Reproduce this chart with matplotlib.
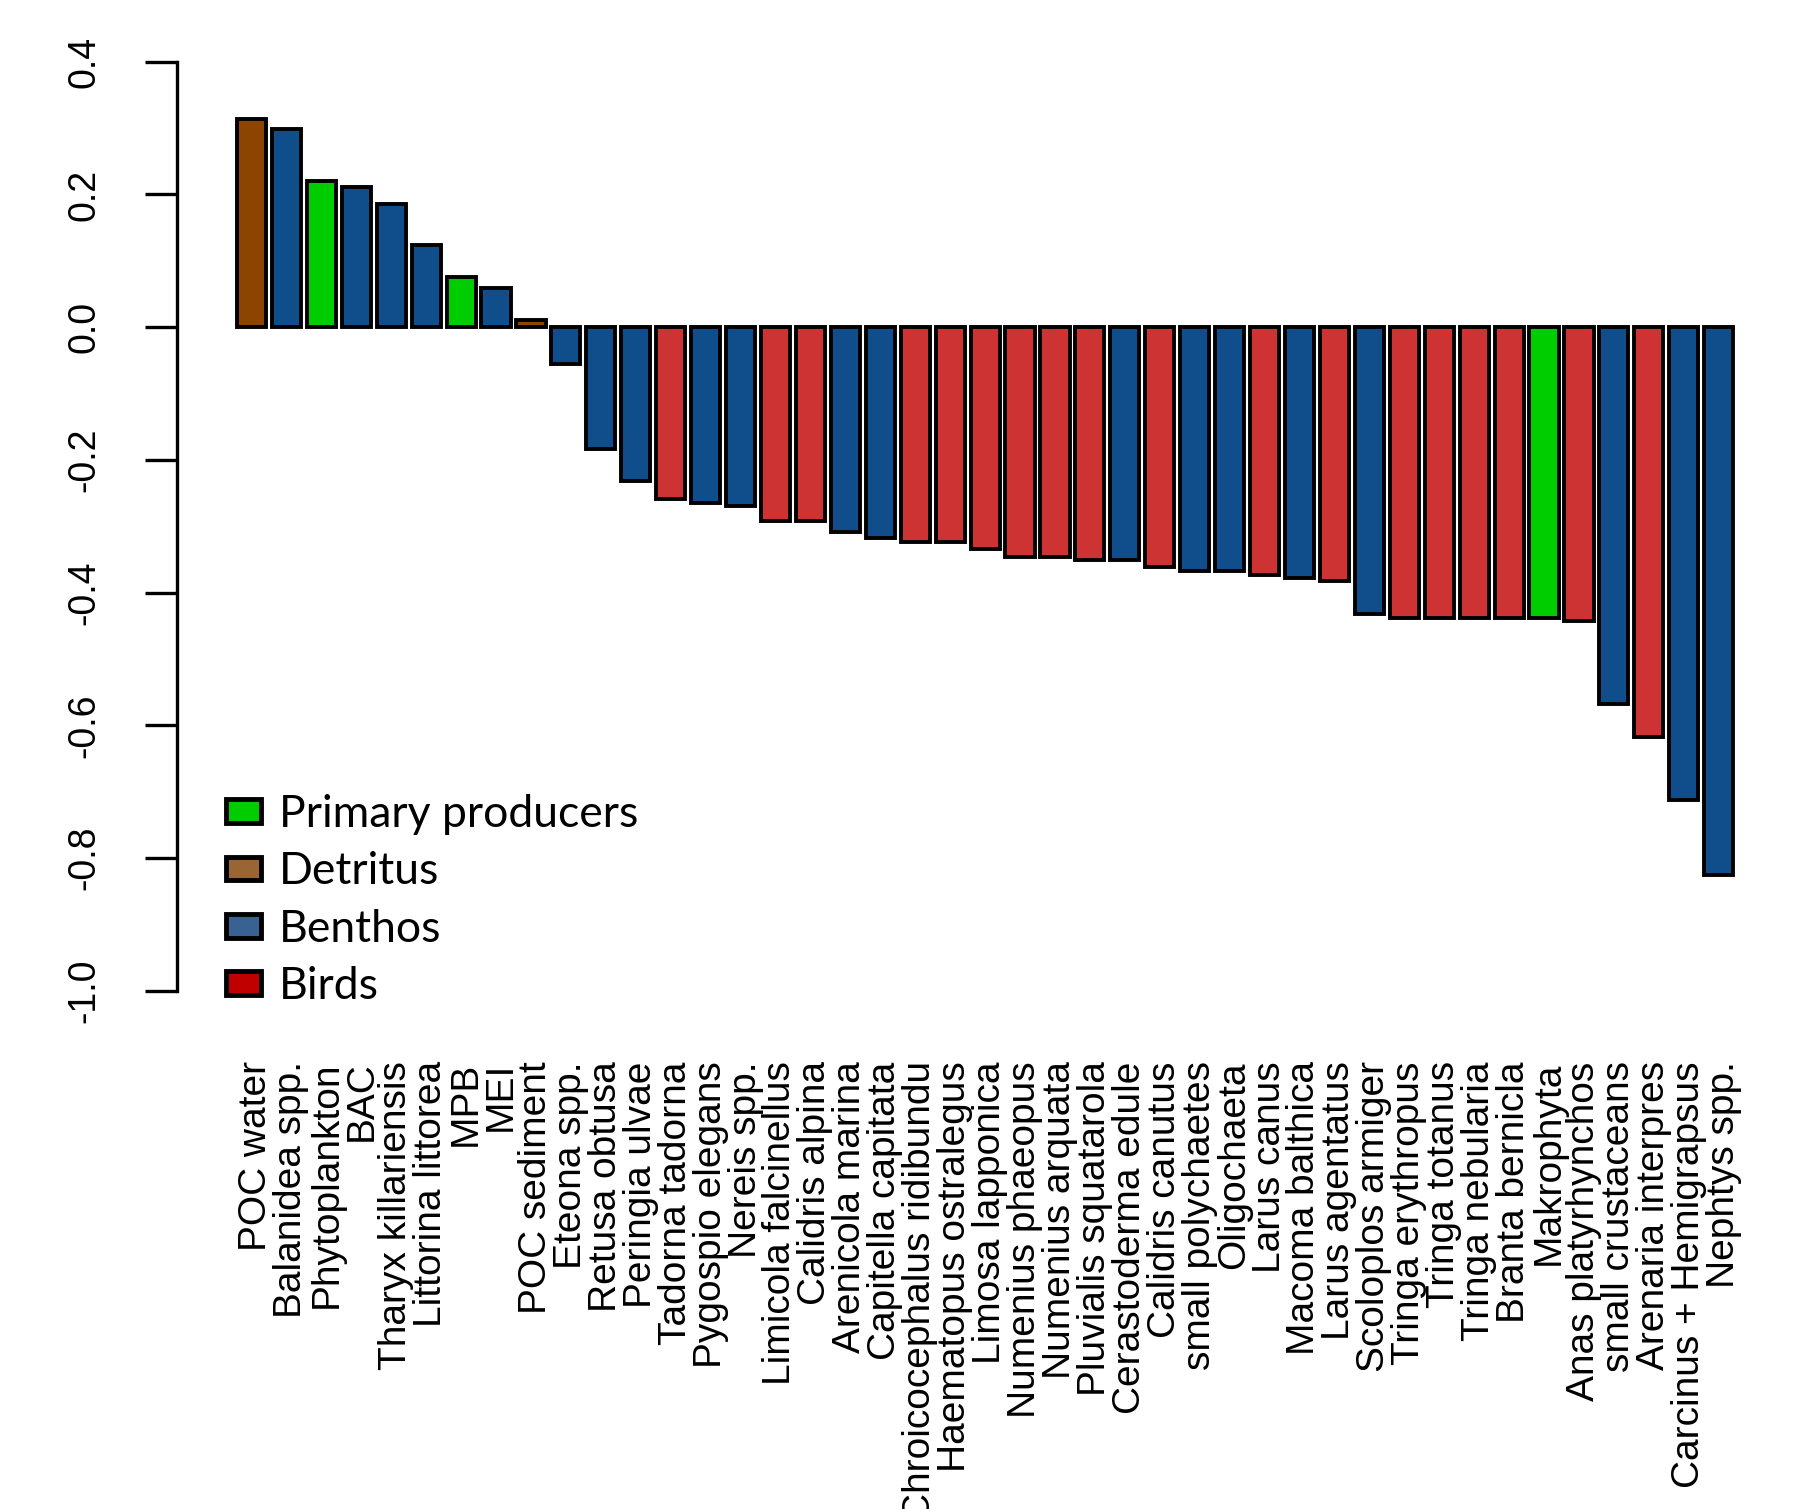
"""Bar chart of per-compartment index values, coloured by functional group."""

import matplotlib.pyplot as plt
import numpy as np
from matplotlib.patches import Patch
from matplotlib.transforms import ScaledTranslation

# ── Data ─────────────────────────────────────────────────────────────────────
COMPARTMENTS = [
    "POC water", "Balanidea spp.", "Phytoplankton", "BAC", "Tharyx killariensis",
    "Littorina littorea", "MPB", "MEI", "POC sediment", "Eteona spp.",
    "Retusa obtusa", "Peringia ulvae", "Tadorna tadorna", "Pygospio elegans",
    "Nereis spp.", "Limicola falcinellus", "Calidris alpina", "Arenicola marina",
    "Capitella capitata", "Chroicocephalus ridibundu", "Haematopus ostralegus",
    "Limosa lapponica", "Numenius phaeopus", "Numenius arquata",
    "Pluvialis squatarola", "Cerastoderma edule", "Calidris canutus",
    "small polychaetes", "Oligochaeta", "Larus canus", "Macoma balthica",
    "Larus agentatus", "Scoloplos armiger", "Tringa erythropus", "Tringa totanus",
    "Tringa nebularia", "Branta bernicla", "Makrophyta", "Anas platyrhynchos",
    "small crustaceans", "Arenaria interpres", "Carcinus + Hemigrapsus",
    "Nephtys spp.",
]
VALUES = [
    0.313, 0.298, 0.221, 0.211, 0.185, 0.124, 0.075, 0.059, 0.011, -0.055,
    -0.184, -0.232, -0.259, -0.265, -0.270, -0.292, -0.292, -0.308, -0.318,
    -0.323, -0.323, -0.335, -0.346, -0.346, -0.351, -0.351, -0.361, -0.368,
    -0.368, -0.373, -0.378, -0.383, -0.432, -0.438, -0.438, -0.438, -0.438,
    -0.438, -0.443, -0.568, -0.617, -0.712, -0.825,
]
GROUPS = [
    "Detritus", "Benthos", "Primary producers", "Benthos", "Benthos", "Benthos",
    "Primary producers", "Benthos", "Detritus", "Benthos", "Benthos", "Benthos",
    "Birds", "Benthos", "Benthos", "Birds", "Birds", "Benthos", "Benthos",
    "Birds", "Birds", "Birds", "Birds", "Birds", "Birds", "Benthos", "Birds",
    "Benthos", "Benthos", "Birds", "Benthos", "Birds", "Benthos", "Birds",
    "Birds", "Birds", "Birds", "Primary producers", "Birds", "Benthos", "Birds",
    "Benthos", "Benthos",
]
Y_TICKS = [0.4, 0.2, 0.0, -0.2, -0.4, -0.6, -0.8, -1.0]

LEGEND_ORDER = ["Primary producers", "Detritus", "Benthos", "Birds"]
BAR_COLOURS = {
    "Primary producers": "#00CD00",
    "Detritus": "#8B4500",
    "Benthos": "#104E8B",
    "Birds": "#CD3333",
}
# the legend swatches were pasted in with slightly different fills
LEGEND_COLOURS = {
    "Primary producers": "#00CC00",
    "Detritus": "#996633",
    "Benthos": "#3A6194",
    "Birds": "#C00000",
}


def plot_bars(out_path: str = "out.png") -> str:
    plt.rcParams["font.family"] = ["Liberation Sans", "DejaVu Sans"]

    fig = plt.figure(figsize=(17.94, 15.09), dpi=100)
    ax = fig.add_axes([0.0987, 0.3188, 0.9008, 0.6649])

    # R-style barplot: width 1, space 0.2, 4% padding on both axes
    n = len(VALUES)
    x = 0.7 + 1.2 * np.arange(n)
    colours = [BAR_COLOURS[g] for g in GROUPS]
    ax.bar(x, VALUES, width=1.0, color=colours, edgecolor="black", linewidth=2.8)

    lo, hi = 0.2, 1.2 * n
    pad = 0.04 * (hi - lo)
    ax.set_xlim(lo - pad, hi + pad)
    ax.set_ylim(-1.0 - 0.056, 0.4 + 0.056)

    for side in ("top", "right", "bottom"):
        ax.spines[side].set_visible(False)
    ax.spines["left"].set_bounds(-1.0, 0.4)
    ax.spines["left"].set_linewidth(2.4)

    ax.set_yticks(Y_TICKS)
    ax.set_yticklabels([f"{t:.1f}" for t in Y_TICKS], rotation=90, va="center")
    ax.tick_params(axis="y", length=23, width=2.4, pad=31, labelsize=27)

    ax.set_xticks(x)
    ax.set_xticklabels(COMPARTMENTS, rotation=90, fontsize=28)
    ax.tick_params(axis="x", length=0, pad=24)
    shift = ScaledTranslation(5 / 100, 0, fig.dpi_scale_trans)
    for lbl in ax.get_xticklabels():
        lbl.set_transform(lbl.get_transform() + shift)

    handles = [
        Patch(facecolor=LEGEND_COLOURS[g], edgecolor="black", linewidth=3.5,
              label=g)
        for g in LEGEND_ORDER
    ]
    ax.legend(
        handles=handles,
        loc="upper left",
        bbox_to_anchor=(0.019, 0.251),
        frameon=False,
        prop={"family": "Lato", "size": 32},
        handlelength=0.8,
        handleheight=0.45,
        handletextpad=0.4,
        labelspacing=0.37,
        borderaxespad=0,
    )

    fig.savefig(out_path, dpi=100, facecolor="white")
    plt.close(fig)
    return out_path


if __name__ == "__main__":
    plot_bars()
